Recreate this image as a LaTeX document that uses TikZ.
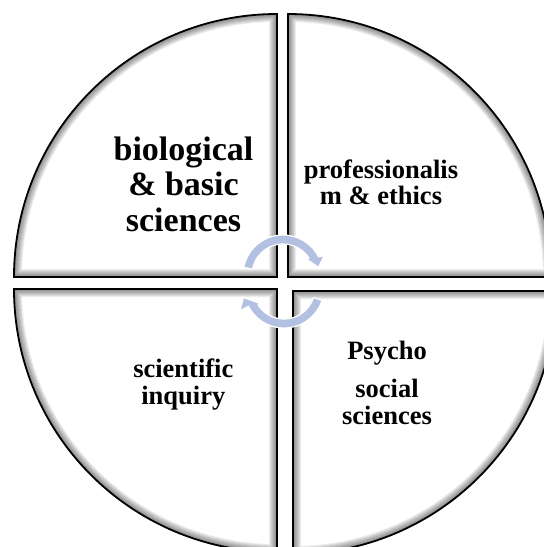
\documentclass[tikz,border=0pt]{standalone}
\usepackage{fontspec}
\setmainfont{Liberation Serif}
\definecolor{arrowcol}{RGB}{178,192,225}
\newcommand{\qshape}[1]{%
  \begin{scope}
    \clip #1;
    \foreach \w in {2,4,...,16} {\draw[black,opacity=0.07,line width=\w pt] #1;}
  \end{scope}
  \draw[line width=1.8pt] #1;}
\tikzset{
  lbl/.style={align=center, inner sep=0pt, anchor=north, text=black},
  big/.style={font=\fontsize{34}{35.5}\selectfont\bfseries},
  small/.style={font=\fontsize{26.5}{25.5}\selectfont\bfseries},
  cyc/.style={fill=arrowcol, draw=white, line width=1.2pt, line join=round}
}
\begin{document}
\begin{tikzpicture}[x=1pt,y=-1pt]
\useasboundingbox (0,0) rectangle (544,547);
\clip (0,0) rectangle (544,547);
% quadrants
\qshape{(277,277) -- (14,277) arc[start angle=180,end angle=270,radius=263] -- cycle}
\qshape{(288,277) -- (288,14) arc[start angle=270,end angle=360,radius=263] -- cycle}
\qshape{(277,289) -- (14,289) arc[start angle=180,end angle=90,radius=263] -- cycle}
\qshape{(293,291) -- (556,291) arc[start angle=0,end angle=90,radius=263] -- cycle}
% labels
\node[lbl, big] (tl) at (183.5,136.5) {biological\\ \& basic\\ sciences};
\node[lbl, small] (tr) at (381,160) {professionalis\\ m \& ethics};
\node[lbl, font=\fontsize{26.5}{27}\selectfont\bfseries] (bl) at (183.3,358.5) {scientific\\ inquiry};
\node[lbl, font=\fontsize{26.5}{27.3}\selectfont\bfseries] (br) at (387,341.3) {Psycho\\[10.4pt] social\\ sciences};
% cycle arrows
\begin{scope}[shift={(283,275)}]
  \path[cyc] (-169:40) arc[start angle=-169,end angle=-27,radius=40]
    -- ++(5.4,-0.8) -- ++(-5.5,11.2) -- ++(-12.5,-8.5)
    -- (-33:31) arc[start angle=-33,end angle=-169,radius=31] -- cycle;
\end{scope}
\begin{scope}[shift={(284,288)}]
  \path[cyc] (18:40) arc[start angle=18,end angle=153,radius=40]
    -- ++(-8.4,4.8) -- ++(3.5,-13.5) -- ++(16.5,6)
    -- (147:31) arc[start angle=147,end angle=18,radius=31] -- cycle;
\end{scope}
\end{tikzpicture}
\end{document}
